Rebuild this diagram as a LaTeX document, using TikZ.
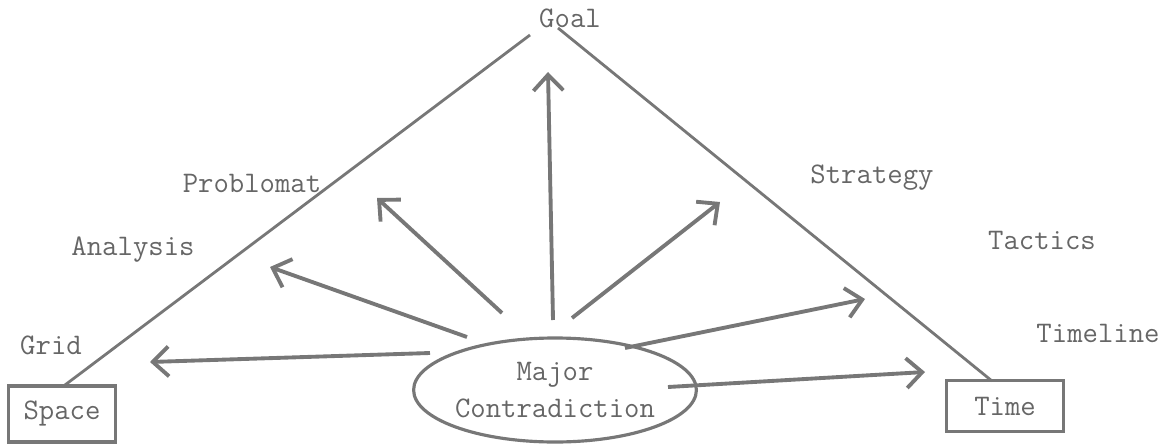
\documentclass[tikz,border=0pt]{standalone}
\usetikzlibrary{arrows.meta,shapes.geometric}
\definecolor{ink}{HTML}{777777}
\definecolor{txt}{HTML}{666666}
\begin{document}
\begin{tikzpicture}[x=0.02cm,y=-0.02cm,
  lbl/.style={text=txt,font=\fontsize{17}{19}\selectfont\ttfamily,inner sep=0pt},
  boxnode/.style={draw=ink,line width=1.8pt,text=txt,font=\fontsize{17}{19}\selectfont\ttfamily,inner sep=0pt},
  edge/.style={draw=ink,line width=1.6pt},
  arr/.style={draw=ink,line width=2.2pt,-{Straight Barb[length=9pt,width=17pt,line width=2.2pt]}}]
\useasboundingbox (0,0) rectangle (1169,446);
% labels
\node[lbl] (goal) at (570,18) {Goal};
\node[lbl] (prob) at (252,183) {Problomat};
\node[lbl] (anal) at (133,250) {Analysis};
\node[lbl] (grid) at (51,345) {Grid};
\node[lbl] (strat) at (872,178) {Strategy};
\node[lbl] (tact) at (1042,240) {Tactics};
\node[lbl] (tline) at (1098,333) {Timeline};
% boxes
\node[boxnode,minimum width=107*0.02cm,minimum height=56*0.02cm] (space) at (62,414) {Space};
\node[boxnode,minimum width=117*0.02cm,minimum height=51*0.02cm] (time) at (1005,406) {Time};
\node[draw=ink,line width=1.8pt,ellipse,minimum width=212*0.02cm,minimum height=104*0.02cm,
      text=txt,font=\fontsize{17}{21}\selectfont\ttfamily,align=center,inner sep=0pt] (mc) at (555,390) {Major\\Contradiction};
% triangle
\coordinate (gl) at (530,35);
\coordinate (gr) at (558,28);
\coordinate (sp) at (65,385);
\coordinate (tm) at (992,381);
\draw[edge] (gl) -- (sp);
\draw[edge] (gr) -- (tm);
% arrow start and end points
\coordinate (s1) at (430,353); \coordinate (e1) at (150,362);
\coordinate (s2) at (467,337); \coordinate (e2) at (270,267);
\coordinate (s3) at (502,313); \coordinate (e3) at (377,198);
\coordinate (s4) at (553,320); \coordinate (e4) at (548,72);
\coordinate (s5) at (572,318); \coordinate (e5) at (720,202);
\coordinate (s6) at (625,348); \coordinate (e6) at (865,299);
\coordinate (s7) at (668,387); \coordinate (e7) at (925,372);
\draw[arr] (s1) -- (e1);
\draw[arr] (s2) -- (e2);
\draw[arr] (s3) -- (e3);
\draw[arr] (s4) -- (e4);
\draw[arr] (s5) -- (e5);
\draw[arr] (s6) -- (e6);
\draw[arr] (s7) -- (e7);
\end{tikzpicture}
\end{document}
